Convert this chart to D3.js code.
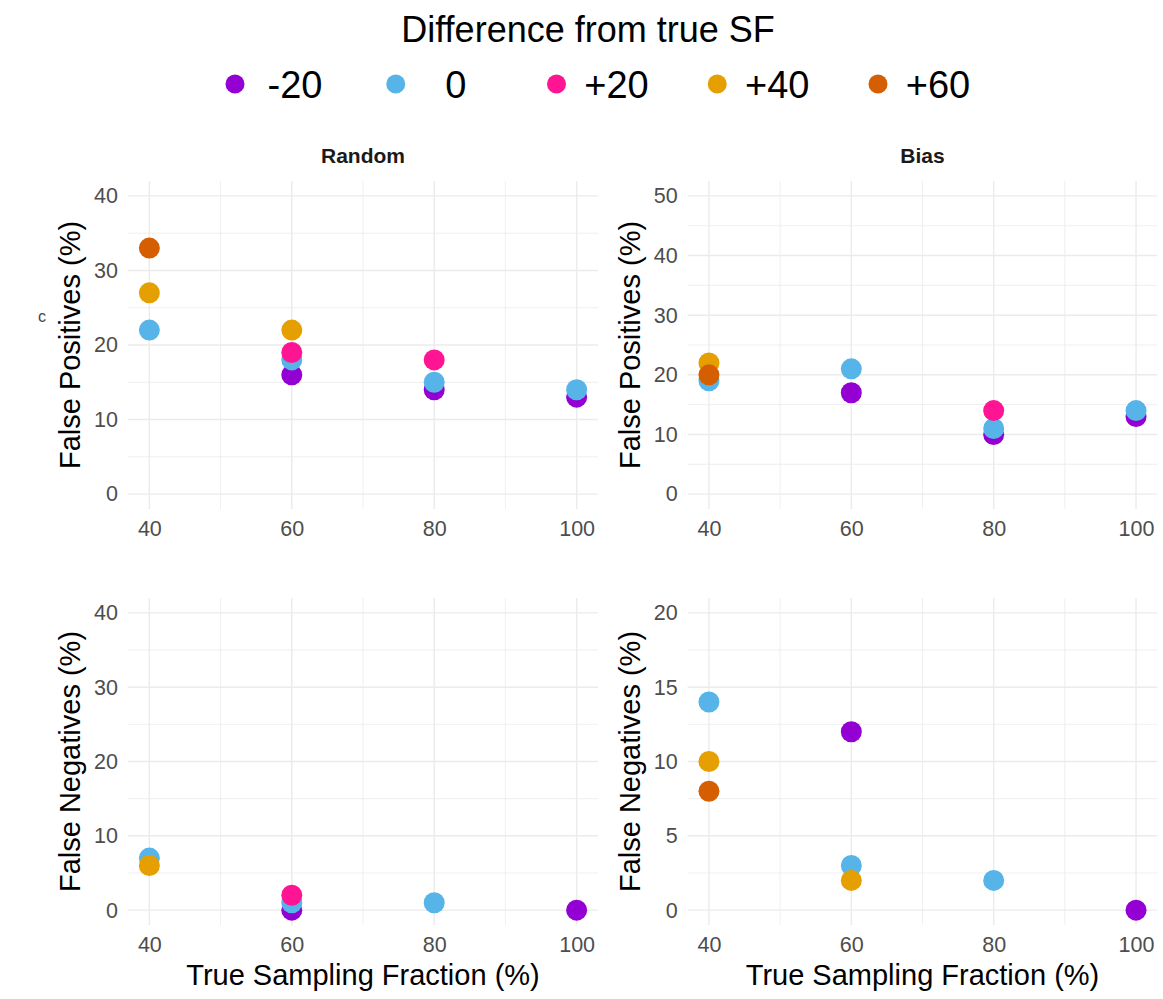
<!DOCTYPE html>
<html>
<head>
<meta charset="utf-8">
<script src="https://cdn.jsdelivr.net/npm/d3@7"></script>
<style>
  html, body { margin: 0; padding: 0; background: #ffffff; }
  svg { display: block; font-family: "Liberation Sans", Arial, sans-serif; }
</style>
</head>
<body>
<svg id="chart" width="1163" height="999"></svg>
<script>
// ---- data ----
const samplingFractions = [40, 60, 80, 100];
const diffLabels = ["-20", "0", "+20", "+40", "+60"];
const diffColors = ["#9400D3", "#56B4E9", "#FF1493", "#E69F00", "#D55E00"];

// rows follow diffLabels, columns follow samplingFractions (null = not run)
const randomFalsePos = [
  [null, 16, 14, 13],
  [22, 18, 15, 14],
  [null, 19, 18, null],
  [27, 22, null, null],
  [33, null, null, null]
];
const biasFalsePos = [
  [null, 17, 10, 13],
  [19, 21, 11, 14],
  [null, null, 14, null],
  [22, null, null, null],
  [20, null, null, null]
];
const randomFalseNeg = [
  [null, 0, null, 0],
  [7, 1, 1, null],
  [null, 2, null, null],
  [6, null, null, null],
  [null, null, null, null]
];
const biasFalseNeg = [
  [null, 12, null, 0],
  [14, 3, 2, null],
  [null, null, null, null],
  [10, 2, null, null],
  [8, null, null, null]
];

const ticksFP_random = [0, 10, 20, 30, 40];
const ticksFP_bias = [0, 10, 20, 30, 40, 50];
const ticksFN_random = [0, 10, 20, 30, 40];
const ticksFN_bias = [0, 5, 10, 15, 20];

const stripTitles = ["Random", "Bias"];
const yTitles = ["False Positives (%)", "False Negatives (%)"];
const xTitle = "True Sampling Fraction (%)";
const legendTitle = "Difference from true SF";

// ---- layout ----
const svg = d3.select("#chart");
const cols = [{ x0: 128, x1: 598 }, { x0: 687.6, x1: 1157.4 }];
const rows = [{ y0: 181, y1: 509 }, { y0: 598, y1: 925 }];
const panels = [
  { r: 0, c: 0, data: randomFalsePos, ticks: ticksFP_random },
  { r: 0, c: 1, data: biasFalsePos, ticks: ticksFP_bias },
  { r: 1, c: 0, data: randomFalseNeg, ticks: ticksFN_random },
  { r: 1, c: 1, data: biasFalseNeg, ticks: ticksFN_bias }
];
const gridColor = "#ebebeb";
const tickColor = "#4d4d4d";

panels.forEach(p => {
  const col = cols[p.c], row = rows[p.r];
  const xMin = d3.min(samplingFractions), xMax = d3.max(samplingFractions);
  const xPad = (xMax - xMin) * 0.05;
  const x = d3.scaleLinear().domain([xMin - xPad, xMax + xPad]).range([col.x0, col.x1]);
  const yMax = d3.max(p.ticks);
  const yPad = yMax * 0.05;
  const y = d3.scaleLinear().domain([-yPad, yMax + yPad]).range([row.y1, row.y0]);
  const g = svg.append("g");

  // minor grid
  const xMinor = d3.range(xMin + 10, xMax, 20);
  const yStep = p.ticks[1] - p.ticks[0];
  const yMinor = p.ticks.slice(0, -1).map(t => t + yStep / 2);
  g.selectAll(".vminor").data(xMinor).join("line")
    .attr("x1", d => x(d)).attr("x2", d => x(d))
    .attr("y1", row.y0).attr("y2", row.y1)
    .attr("stroke", gridColor).attr("stroke-width", 0.8);
  g.selectAll(".hminor").data(yMinor).join("line")
    .attr("x1", col.x0).attr("x2", col.x1)
    .attr("y1", d => y(d)).attr("y2", d => y(d))
    .attr("stroke", gridColor).attr("stroke-width", 0.8);
  // major grid
  g.selectAll(".vmajor").data(samplingFractions).join("line")
    .attr("x1", d => x(d)).attr("x2", d => x(d))
    .attr("y1", row.y0).attr("y2", row.y1)
    .attr("stroke", gridColor).attr("stroke-width", 1.4);
  g.selectAll(".hmajor").data(p.ticks).join("line")
    .attr("x1", col.x0).attr("x2", col.x1)
    .attr("y1", d => y(d)).attr("y2", d => y(d))
    .attr("stroke", gridColor).attr("stroke-width", 1.4);

  // axes (labels only, no lines)
  const xAxis = d3.axisBottom(x).tickValues(samplingFractions).tickSize(0).tickPadding(12);
  const xg = g.append("g").attr("transform", `translate(0,${row.y1})`).call(xAxis);
  const yAxis = d3.axisLeft(y).tickValues(p.ticks).tickSize(0).tickPadding(10);
  const yg = g.append("g").attr("transform", `translate(${col.x0},0)`).call(yAxis);
  [xg, yg].forEach(a => {
    a.select(".domain").remove();
    a.selectAll("text").attr("fill", tickColor)
      .style("font-size", "21.5px").style("font-family", "'Liberation Sans', Arial, sans-serif");
  });

  // points, drawn in legend order so later levels sit on top
  p.data.forEach((vals, si) => {
    const pts = samplingFractions.map((sf, i) => ({ sf, v: vals[i] })).filter(d => d.v !== null);
    g.selectAll(null).data(pts).join("circle")
      .attr("cx", d => x(d.sf)).attr("cy", d => y(d.v))
      .attr("r", 10.5).attr("fill", diffColors[si]);
  });

  // y title
  const cx = col.x0 - 58, cy = (row.y0 + row.y1) / 2;
  svg.append("text").attr("transform", `translate(${cx},${cy}) rotate(-90)`)
    .attr("text-anchor", "middle").attr("dy", "0.35em")
    .style("font-size", "29px").attr("fill", "#000")
    .text(yTitles[p.r]);

  if (p.r === 0) {
    svg.append("text").attr("x", (col.x0 + col.x1) / 2).attr("y", 163)
      .attr("text-anchor", "middle").style("font-size", "21px").style("font-weight", "bold")
      .attr("fill", "#1a1a1a").text(stripTitles[p.c]);
  } else {
    svg.append("text").attr("x", (col.x0 + col.x1) / 2).attr("y", 985)
      .attr("text-anchor", "middle").style("font-size", "29px").attr("fill", "#000")
      .text(xTitle);
  }
});

// stray glyph at the left margin
svg.append("text").attr("x", 42).attr("y", 322).attr("text-anchor", "middle")
  .style("font-size", "16px").attr("fill", "#444").text("c");

// ---- legend ----
svg.append("text").attr("x", 588).attr("y", 42).attr("text-anchor", "middle")
  .style("font-size", "36px").attr("fill", "#000").text(legendTitle);
const legend = svg.append("g");
const legX = d3.scalePoint().domain(diffLabels).range([235, 878]);
diffLabels.forEach((lab, i) => {
  legend.append("circle").attr("cx", legX(lab)).attr("cy", 84).attr("r", 9.5).attr("fill", diffColors[i]);
  legend.append("text").attr("x", legX(lab) + 60).attr("y", 84).attr("dy", "0.36em")
    .attr("text-anchor", "middle").style("font-size", "38px").attr("fill", "#000").text(lab);
});
</script>
</body>
</html>
